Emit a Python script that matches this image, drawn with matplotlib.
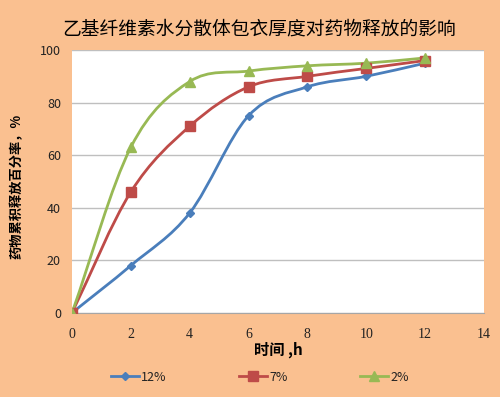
import numpy as np
import matplotlib
matplotlib.use("Agg")
import matplotlib.pyplot as plt
from matplotlib.path import Path
from matplotlib.patches import PathPatch
from matplotlib.lines import Line2D

plt.rcParams['font.family'] = ['Noto Sans CJK SC', 'DejaVu Sans']

# === Data ===
hours = [0, 2, 4, 6, 8, 10, 12]
release_12 = [0, 18, 38, 75, 86, 90, 95]
release_7 = [0, 46, 71, 86, 90, 93, 96]
release_2 = [0, 63, 88, 92, 94, 95, 97]
series_names = ["12%", "7%", "2%"]

colors = ["#4A7EBB", "#BE4B48", "#98B954"]
markers = ["D", "s", "^"]
msizes = [4.5, 6.5, 7]
bg = "#FAC090"


def smooth_path(xs, ys):
    # Excel-like smoothed line: cubic bezier segments through the points
    pts = np.column_stack([xs, ys]).astype(float)
    n = len(pts)
    verts = [pts[0]]
    codes = [Path.MOVETO]
    for i in range(n - 1):
        p1 = pts[i]
        p2 = pts[i + 1]
        p0 = pts[i - 1] if i > 0 else 2 * p1 - p2
        p3 = pts[i + 2] if i + 2 < n else 2 * p2 - p1
        c1 = p1 + (p2 - p0) / 6.0
        c2 = p2 - (p3 - p1) / 6.0
        verts += [c1, c2, p2]
        codes += [Path.CURVE4] * 3
    return Path(verts, codes)


fig = plt.figure(figsize=(5.0, 3.97), dpi=100, facecolor=bg)
ax = fig.add_axes([0.144, 0.212, 0.824, 0.662])
ax.set_facecolor("white")

handles = []
for ys, c, m, ms, name in zip([release_12, release_7, release_2], colors, markers, msizes, series_names):
    patch = PathPatch(smooth_path(hours, ys), facecolor="none", edgecolor=c, lw=2, zorder=3)
    ax.add_patch(patch)
    ax.plot(hours, ys, linestyle="none", marker=m, color=c, markersize=ms, zorder=4)
    handles.append(Line2D([], [], color=c, lw=2, marker=m, markersize=ms, label=name))

ax.set_xlim(0, 14)
ax.set_ylim(0, 100)
ax.set_xticks(range(0, 15, 2))
ax.set_yticks(range(0, 101, 20))
ax.yaxis.grid(True, color="#BFBFBF", lw=1)
ax.set_axisbelow(True)
for s in ["top", "right", "left"]:
    ax.spines[s].set_visible(False)
ax.spines["bottom"].set_color("#A6A6A6")
ax.tick_params(axis="both", length=0, labelsize=9, colors="#222222")
ax.tick_params(axis="y", pad=8)
ax.tick_params(axis="x", pad=11)
for lab in ax.get_xticklabels():
    lab.set_family("Liberation Serif")
    lab.set_fontsize(10)

ax.set_xlabel("时间 ,h", fontsize=11, fontweight="bold", labelpad=0)
ax.set_ylabel("药物累积释放百分率，%", fontsize=9.5, fontweight="bold", labelpad=9)
ax.yaxis.set_label_coords(-0.118, 0.48)

fig.text(0.518, 0.928, "乙基纤维素水分散体包衣厚度对药物释放的影响", ha="center", va="center", fontsize=13.5)

fig.legend(handles=handles, loc="center", bbox_to_anchor=(0.52, 0.05), ncol=3, frameon=False,
           fontsize=9, columnspacing=5.8, handlelength=2.2, handletextpad=0.2,
           labelcolor="#222222")

fig.savefig("out.png", dpi=100, facecolor=bg)
